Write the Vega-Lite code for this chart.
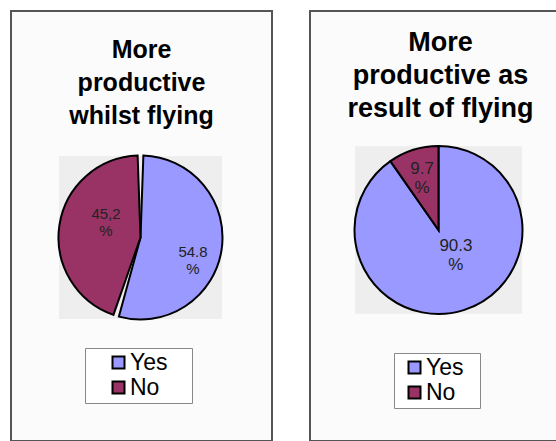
{
  "$schema": "https://vega.github.io/schema/vega-lite/v6.json",
  "padding": {"left": 10, "top": 10, "right": 0, "bottom": 0},
  "background": "white",
  "config": {
    "view": {"stroke": "#555555", "strokeWidth": 2, "fill": "#fbfbfb"},
    "font": "Liberation Sans"
  },
  "spacing": 36,
  "resolve": {"legend": {"color": "independent"}, "scale": {"theta": "independent"}},
  "hconcat": [
    {
      "width": 261,
      "height": 430,
      "view": {"stroke": "#555555", "strokeWidth": 2, "fill": "#fbfbfb"},
      "title": {"text": ["More", "productive", "whilst flying"], "fontSize": 25, "font": "Liberation Sans", "fontWeight": "bold", "color": "black", "anchor": "middle", "frame": "group", "baseline": "top", "offset": -118, "lineHeight": 33},
      "data": {"values": [
        {"answer": "Yes", "value": 54.8, "label": "54.8\n%", "idx": 0},
        {"answer": "No", "value": 45.2, "label": "45,2\n%", "idx": 1}
      ]},
      "resolve": {"scale": {"theta": "independent"}},
      "layer": [
        {"mark": {"type": "point", "shape": "square", "size": 26569, "filled": true, "color": "#eeeeee", "opacity": 1, "strokeWidth": 0, "xOffset": -1, "yOffset": 11.5}, "encoding": {}},
        {"mark": {"type": "arc", "radius": 82, "stroke": "black", "strokeWidth": 2, "padAngle": 0.07, "xOffset": -1, "yOffset": 11.5},
         "encoding": {
           "theta": {"field": "value", "type": "quantitative", "stack": true},
           "order": {"field": "idx", "type": "quantitative"},
           "color": {"field": "answer", "type": "nominal", "scale": {"domain": ["Yes", "No"], "range": ["#9999ff", "#993366"]},
             "legend": {"orient": "none", "legendX": 74, "legendY": 337, "title": null, "strokeColor": "#888888", "fillColor": "white", "padding": 3, "symbolType": "square", "symbolSize": 144, "symbolStrokeColor": "black", "symbolStrokeWidth": 2, "symbolOffset": 19, "labelFontSize": 23, "labelFont": "Liberation Sans", "labelColor": "black", "labelOffset": 0, "rowPadding": 1, "labelExpr": "datum.label + '\u00a0\u00a0\u00a0\u200a\u200b'"}}
         }},
        {"mark": {"type": "text", "radius": 47.5, "fontSize": 15, "font": "Liberation Sans", "color": "#222222", "lineBreak": "\n", "lineHeight": 17, "baseline": "middle", "xOffset": 8, "yOffset": 7},
         "encoding": {
           "theta": {"field": "value", "type": "quantitative", "stack": true, "scale": {"range": [0.2618, 6.545]}},
           "order": {"field": "idx", "type": "quantitative"},
           "text": {"field": "label", "type": "nominal"}
         }}
      ]
    },
    {
      "width": 261,
      "height": 430,
      "view": {"stroke": "#555555", "strokeWidth": 2, "fill": "#fbfbfb"},
      "title": {"text": ["More", "productive as", "result of flying"], "fontSize": 27, "font": "Liberation Sans", "fontWeight": "bold", "color": "black", "anchor": "middle", "frame": "group", "baseline": "top", "offset": -112, "lineHeight": 33},
      "data": {"values": [
        {"answer": "Yes", "value": 90.3, "label": "90.3\n%", "idx": 0},
        {"answer": "No", "value": 9.7, "label": "9.7\n%", "idx": 1}
      ]},
      "resolve": {"scale": {"theta": "independent"}},
      "layer": [
        {"mark": {"type": "point", "shape": "square", "size": 27889, "filled": true, "color": "#eeeeee", "opacity": 1, "strokeWidth": 0, "xOffset": -2, "yOffset": 4}, "encoding": {}},
        {"mark": {"type": "arc", "radius": 84, "stroke": "black", "strokeWidth": 2, "xOffset": -2, "yOffset": 4},
         "encoding": {
           "theta": {"field": "value", "type": "quantitative", "stack": true},
           "order": {"field": "idx", "type": "quantitative"},
           "color": {"field": "answer", "type": "nominal", "scale": {"domain": ["Yes", "No"], "range": ["#9999ff", "#993366"]},
             "legend": {"orient": "none", "legendX": 84, "legendY": 342, "title": null, "strokeColor": "#888888", "fillColor": "white", "padding": 3, "symbolType": "square", "symbolSize": 144, "symbolStrokeColor": "black", "symbolStrokeWidth": 2, "symbolOffset": 6, "labelFontSize": 23, "labelFont": "Liberation Sans", "labelColor": "black", "labelOffset": 0, "rowPadding": 1, "labelExpr": "datum.label + '\u00a0\u00a0\u200b'"}}
         }},
        {"mark": {"type": "text", "radius": 42, "fontSize": 17, "font": "Liberation Sans", "color": "#222222", "lineBreak": "\n", "lineHeight": 19, "baseline": "middle", "xOffset": -1.5, "yOffset": -18.5},
         "encoding": {
           "theta": {"field": "value", "type": "quantitative", "stack": true, "scale": {"range": [-0.11, 6.1732]}},
           "order": {"field": "idx", "type": "quantitative"},
           "text": {"field": "label", "type": "nominal"}
         }}
      ]
    }
  ]
}
